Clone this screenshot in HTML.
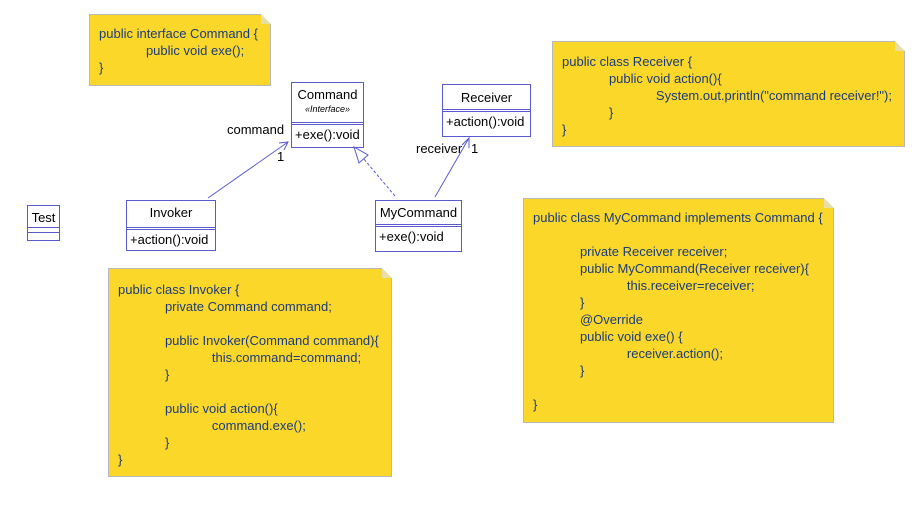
<!DOCTYPE html>
<html><head><meta charset="utf-8"><style>
body{margin:0;width:914px;height:518px;background:#fff;position:relative;overflow:hidden;font-family:"Liberation Sans",sans-serif;font-size:13px;}
.n{position:absolute;background:#fbd72a;border:1px solid #b8b8b8;color:#1a3b7a;line-height:17px;white-space:pre;box-sizing:border-box;}
.n .f{position:absolute;right:-1px;top:-1px;width:0;height:0;border-left:10px solid #e8dfa8;border-top:10px solid #fff;}
.c{position:absolute;border:1px solid #5a5ad0;background:#fff;box-sizing:border-box;color:#000;}
.c .h{text-align:center;}
.c .s{border-top:1px solid #5a5ad0;height:1px;}
.c .o{border-top:1px solid #5a5ad0;padding:2px 3px;}
.t{position:absolute;color:#000;}
</style></head><body>
<div class="n" style="left:89px;top:14px;width:182px;height:72px;padding:10px 9px"><div class="f"></div>public interface Command {
             public void exe();
}</div>
<div class="n" style="left:552px;top:41px;width:353px;height:106px;padding:11px 9px"><div class="f"></div>public class Receiver {
             public void action(){
                          System.out.println("command receiver!");
             }
}</div>
<div class="n" style="left:108px;top:268px;width:284px;height:209px;padding:12px 9px"><div class="f"></div>public class Invoker {
             private Command command;

             public Invoker(Command command){
                          this.command=command;
             }

             public void action(){
                          command.exe();
             }
}</div>
<div class="n" style="left:523px;top:198px;width:311px;height:225px;padding:10px 9px"><div class="f"></div>public class MyCommand implements Command {

             private Receiver receiver;
             public MyCommand(Receiver receiver){
                          this.receiver=receiver;
             }
             @Override
             public void exe() {
                          receiver.action();
             }

}</div>

<div class="c" style="left:291px;top:82px;width:73px;height:66px"><div class="h" style="padding-top:4px;height:35px">Command<div style="font-size:9px;font-style:italic;margin-top:2px">«Interface»</div></div><div class="s"></div><div class="o">+exe():void</div></div>
<div class="c" style="left:442px;top:84px;width:89px;height:53px"><div class="h" style="padding-top:5px;height:19px">Receiver</div><div class="s"></div><div class="o">+action():void</div></div>
<div class="c" style="left:126px;top:200px;width:90px;height:51px"><div class="h" style="padding-top:4px;height:22px">Invoker</div><div class="s"></div><div class="o">+action():void</div></div>
<div class="c" style="left:375px;top:200px;width:87px;height:52px"><div class="h" style="padding-top:4px;height:19px">MyCommand</div><div class="s"></div><div class="o">+exe():void</div></div>
<div class="c" style="left:27px;top:205px;width:33px;height:36px"><div class="h" style="padding-top:4px;height:17px">Test</div><div class="s" style="height:4px"></div><div class="s"></div></div>

<div class="t" style="left:227px;top:122px">command</div>
<div class="t" style="left:277px;top:149px">1</div>
<div class="t" style="left:416px;top:141px">receiver</div>
<div class="t" style="left:471px;top:141px">1</div>

<svg style="position:absolute;left:0;top:0" width="914" height="518">
<g stroke="#5a5ad0" fill="none" stroke-width="1">
<line x1="208" y1="198" x2="288" y2="142"/>
<polyline points="279,143 288,142 284,150"/>
<line x1="395" y1="196" x2="363" y2="158" stroke-dasharray="3,2"/>
<polygon points="354,147 359,163 368,155" fill="#fff"/>
<line x1="435" y1="197" x2="469" y2="138"/>
<polyline points="462,145 469,138 469,148"/>
</g>
</svg>
</body></html>
